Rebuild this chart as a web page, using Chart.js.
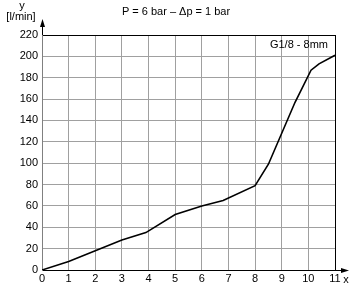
<!DOCTYPE html>
<html>
<head>
<meta charset="utf-8">
<script src="https://cdn.jsdelivr.net/npm/chart.js@4"></script>
<style>
  body { margin: 0; background: #fff; }
  #wrap { width: 350px; height: 288px; }
</style>
</head>
<body>
<div id="wrap"><canvas id="grafico"></canvas></div>
<script>
// dados
const xValores = [0, 1, 2, 3, 3.9, 5, 6, 6.8, 8, 8.5, 9, 9.5, 10.1, 10.4, 11];
const yValores = [0, 8, 18, 28, 35, 52, 60, 65, 79, 99, 128, 157, 187, 193, 201];
const xTicks = [0, 1, 2, 3, 4, 5, 6, 7, 8, 9, 10, 11];
const yTicks = [0, 20, 40, 60, 80, 100, 120, 140, 160, 180, 200, 220];
const titulo = 'P = 6 bar \u2013 \u0394p = 1 bar';
const legenda = 'G1/8 - 8mm';

const fonte = '11px "Liberation Sans", Arial, sans-serif';

// setas dos eixos e textos
const decoracao = {
  id: 'decoracao',
  afterDraw(chart) {
    const c = chart.ctx;
    const a = chart.chartArea;
    c.save();
    c.strokeStyle = '#000';
    c.fillStyle = '#000';
    c.lineWidth = 1;
    // eixo y com seta
    c.beginPath();
    c.moveTo(a.left + 0.5, a.top);
    c.lineTo(a.left + 0.5, 24);
    c.stroke();
    c.beginPath();
    c.moveTo(a.left + 0.5, 19);
    c.lineTo(a.left - 2, 27);
    c.lineTo(a.left + 3, 27);
    c.closePath();
    c.fill();
    // eixo x com seta
    c.beginPath();
    c.moveTo(a.right, a.bottom + 0.5);
    c.lineTo(343, a.bottom + 0.5);
    c.stroke();
    c.beginPath();
    c.moveTo(349, a.bottom + 0.5);
    c.lineTo(341, a.bottom - 2);
    c.lineTo(341, a.bottom + 3);
    c.closePath();
    c.fill();
    // textos
    c.font = fonte;
    c.textBaseline = 'middle';
    c.textAlign = 'center';
    c.fillText(titulo, 176, 12);
    c.fillText('y', 22, 6);
    c.fillText('[l/min]', 21, 17);
    c.fillText('x', 346, 280);
    c.textAlign = 'right';
    c.fillText(legenda, 328, 45);
    c.restore();
  }
};

const ctx = document.getElementById('grafico').getContext('2d');
const grafico = new Chart(ctx, {
  type: 'scatter',
  data: {
    datasets: [{
      data: xValores.map((x, i) => ({ x: x, y: yValores[i] })),
      showLine: true,
      borderColor: '#000',
      borderWidth: 1.6,
      pointRadius: 0,
      tension: 0
    }]
  },
  options: {
    responsive: true,
    maintainAspectRatio: false,
    animation: false,
    layout: { padding: { top: 35, right: 15, left: 0, bottom: 0 } },
    plugins: {
      legend: { display: false },
      tooltip: { enabled: false }
    },
    scales: {
      x: {
        type: 'linear',
        min: 0,
        max: 11,
        afterBuildTicks: s => { s.ticks = xTicks.map(v => ({ value: v })); },
        afterFit: s => { s.height = 18; },
        ticks: { color: '#000', font: { family: '"Liberation Sans", Arial, sans-serif', size: 11 }, padding: 2, maxRotation: 0 },
        grid: {
          drawTicks: false,
          color: c => (c.tick && c.tick.value === 11 ? '#000' : '#a0a0a0'),
          lineWidth: 1
        },
        border: { color: '#000' }
      },
      y: {
        min: 0,
        max: 220,
        afterBuildTicks: s => { s.ticks = yTicks.map(v => ({ value: v })); },
        afterFit: s => { s.width = 42; },
        ticks: { color: '#000', font: { family: '"Liberation Sans", Arial, sans-serif', size: 11 }, padding: 4 },
        grid: {
          drawTicks: false,
          color: c => (c.tick && c.tick.value === 220 ? '#000' : '#a0a0a0'),
          lineWidth: 1
        },
        border: { color: '#808080' }
      }
    }
  },
  plugins: [decoracao]
});
</script>
</body>
</html>
